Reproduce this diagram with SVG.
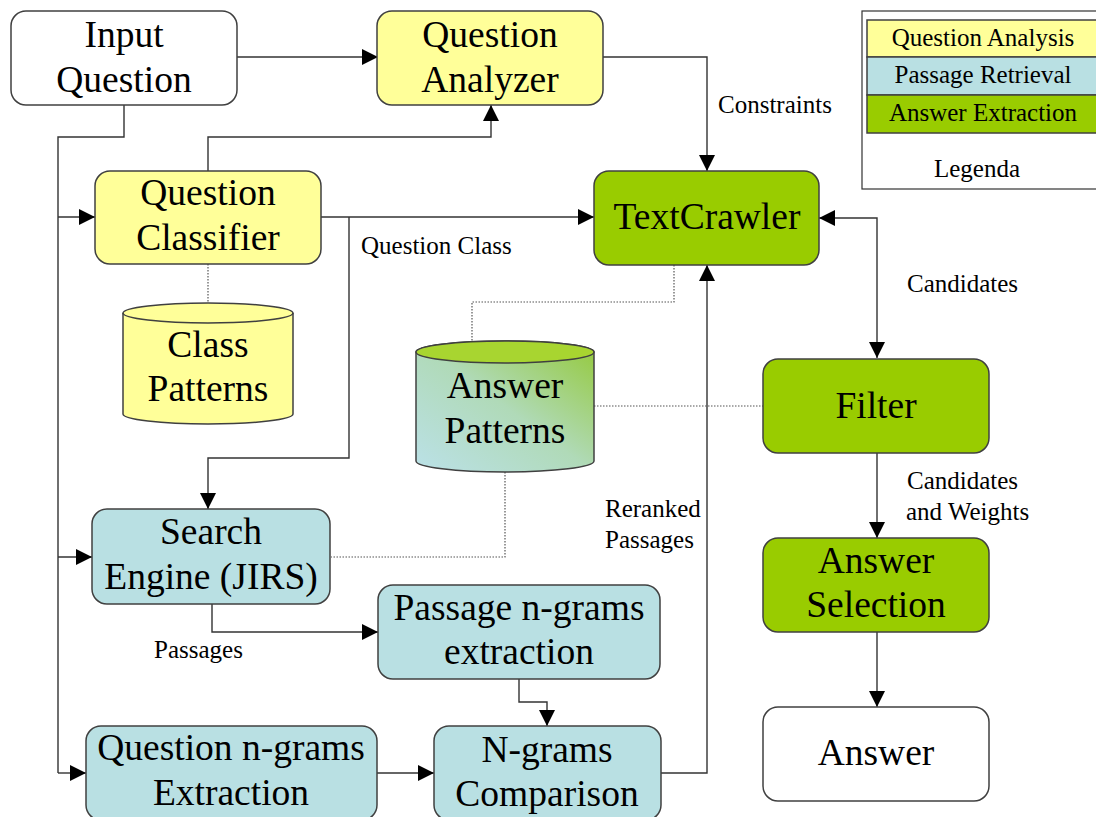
<svg xmlns="http://www.w3.org/2000/svg" width="1096" height="817" viewBox="0 0 1096 817">
<style>
.box{stroke:#404040;stroke-width:1.5}
.w{fill:#ffffff}
.y{fill:#ffff99}
.b{fill:#b9e0e3}
.g{fill:#99cc00}
.t{font-size:37.5px;fill:#000;text-anchor:middle}
.s{font-size:25px;fill:#000}
.c{fill:none;stroke:#333;stroke-width:1.4}
.d{fill:none;stroke:#555;stroke-width:1.2;stroke-dasharray:1.5 1.5}
</style>
<defs>
<marker id="ar" markerUnits="userSpaceOnUse" markerWidth="16" markerHeight="16" refX="16" refY="8" orient="auto-start-reverse">
<path d="M0,0 L16,8 L0,16 z" fill="#000"/>
</marker>
<linearGradient id="ag" x1="0" y1="1" x2="1" y2="0">
<stop offset="0" stop-color="#bbe1e8"/>
<stop offset="0.5" stop-color="#b0dab8"/>
<stop offset="1" stop-color="#94c93a"/>
</linearGradient>
</defs>
<rect width="1096" height="817" fill="#fff"/>
<g font-family="Liberation Serif, DejaVu Serif, serif">
<g id="connectors">
<path class="c" d="M237,57 H378" marker-end="url(#ar)"/>
<path class="c" d="M124,105 V137 H58 V773"/>
<path class="c" d="M58,217 H95" marker-end="url(#ar)"/>
<path class="c" d="M58,557 H92" marker-end="url(#ar)"/>
<path class="c" d="M58,773 H86" marker-end="url(#ar)"/>
<path class="c" d="M208,171 V137 H491 V105" marker-end="url(#ar)"/>
<path class="c" d="M321,217 H594" marker-end="url(#ar)"/>
<path class="c" d="M349,217 V458 H208 V509" marker-end="url(#ar)"/>
<path class="c" d="M603,57 H707 V171" marker-end="url(#ar)"/>
<path class="c" d="M819,218 H877 V358" marker-start="url(#ar)" marker-end="url(#ar)"/>
<path class="c" d="M877,453 V538" marker-end="url(#ar)"/>
<path class="c" d="M877,632 V707" marker-end="url(#ar)"/>
<path class="c" d="M212,604 V632 H378" marker-end="url(#ar)"/>
<path class="c" d="M519,679 V702 H547 V726" marker-end="url(#ar)"/>
<path class="c" d="M377,773 H434" marker-end="url(#ar)"/>
<path class="c" d="M661,773 H707 V265" marker-end="url(#ar)"/>
<path class="d" d="M208,264 V303"/>
<path class="d" d="M674,265 V302 H472 V341"/>
<path class="d" d="M594,406 H763"/>
<path class="d" d="M505,472 V557 H331"/>
<text class="s" x="718" y="113">Constraints</text>
<text class="s" x="361" y="254">Question Class</text>
<text class="s" x="907" y="292">Candidates</text>
<text class="s" x="907" y="489">Candidates</text>
<text class="s" x="906" y="520">and Weights</text>
<text class="s" x="605" y="517">Reranked</text>
<text class="s" x="605" y="548">Passages</text>
<text class="s" x="154" y="658">Passages</text>
</g>

<g id="input-question">
<rect class="box w" x="11" y="11" width="226" height="94" rx="15"/>
<text class="t" x="124" y="47">Input</text>
<text class="t" x="124" y="92">Question</text>
</g>
<g id="question-analyzer">
<rect class="box y" x="377" y="11" width="226" height="94" rx="15"/>
<text class="t" x="490" y="47">Question</text>
<text class="t" x="490" y="92">Analyzer</text>
</g>
<g id="question-classifier">
<rect class="box y" x="95" y="171" width="226" height="93" rx="15"/>
<text class="t" x="208" y="205">Question</text>
<text class="t" x="208" y="250">Classifier</text>
</g>
<g id="class-patterns">
<path class="box y" d="M123,313 A85,10 0 0 1 293,313 V414 A85,10 0 0 1 123,414 Z"/>
<path class="box" fill="none" d="M123,313 A85,10 0 0 0 293,313"/>
<text class="t" x="208" y="357">Class</text>
<text class="t" x="208" y="401">Patterns</text>
</g>
<g id="textcrawler">
<rect class="box g" x="594" y="171" width="225" height="94" rx="15"/>
<text class="t" x="707" y="229">TextCrawler</text>
</g>
<g id="answer-patterns">
<path class="box" fill="url(#ag)" d="M416,352 A89,11 0 0 1 594,352 V461 A89,11 0 0 1 416,461 Z"/>
<ellipse class="box" fill="#a8d530" cx="505" cy="352" rx="89" ry="11"/>
<text class="t" x="505" y="398">Answer</text>
<text class="t" x="505" y="443">Patterns</text>
</g>
<g id="filter">
<rect class="box g" x="763" y="359" width="226" height="94" rx="15"/>
<text class="t" x="876" y="418">Filter</text>
</g>
<g id="search-engine">
<rect class="box b" x="92" y="509" width="238" height="95" rx="15"/>
<text class="t" x="211" y="544">Search</text>
<text class="t" x="211" y="589">Engine (JIRS)</text>
</g>
<g id="passage-ngrams">
<rect class="box b" x="378" y="585" width="282" height="94" rx="15"/>
<text class="t" x="519" y="620">Passage n-grams</text>
<text class="t" x="519" y="664">extraction</text>
</g>
<g id="answer-selection">
<rect class="box g" x="763" y="538" width="226" height="94" rx="15"/>
<text class="t" x="876" y="573">Answer</text>
<text class="t" x="876" y="617">Selection</text>
</g>
<g id="answer">
<rect class="box w" x="763" y="707" width="226" height="94" rx="15"/>
<text class="t" x="876" y="765">Answer</text>
</g>
<g id="question-ngrams">
<rect class="box b" x="86" y="726" width="291" height="94" rx="15"/>
<text class="t" x="231" y="760">Question n-grams</text>
<text class="t" x="231" y="805">Extraction</text>
</g>
<g id="ngrams-comparison">
<rect class="box b" x="434" y="726" width="227" height="94" rx="15"/>
<text class="t" x="547" y="762">N-grams</text>
<text class="t" x="547" y="806">Comparison</text>
</g>
<g id="legend">
<rect x="862" y="11" width="240" height="178" fill="#fff" stroke="#333" stroke-width="1.2"/>
<rect class="box y" x="867" y="20" width="232" height="37"/>
<rect class="box b" x="867" y="57" width="232" height="38"/>
<rect class="box g" x="867" y="95" width="232" height="38"/>
<text class="s" x="983" y="46" text-anchor="middle">Question Analysis</text>
<text class="s" x="983" y="83" text-anchor="middle">Passage Retrieval</text>
<text class="s" x="983" y="121" text-anchor="middle">Answer Extraction</text>
<text class="s" x="977" y="177" text-anchor="middle">Legenda</text>
</g>
</g>
</svg>
